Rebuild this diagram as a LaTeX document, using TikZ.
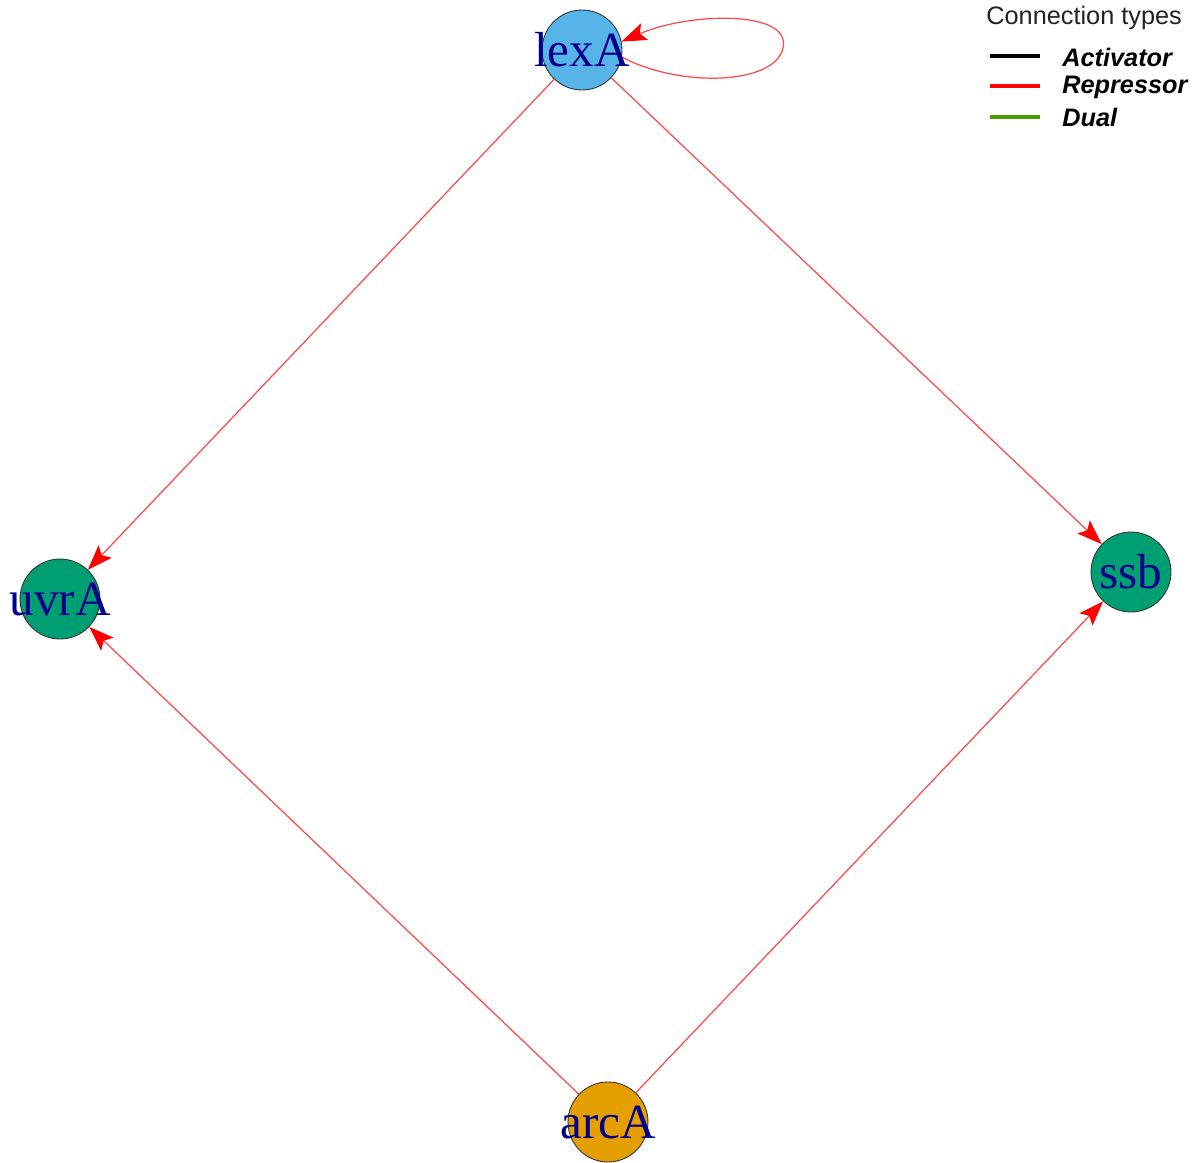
\documentclass[tikz,border=0pt]{standalone}
\usepackage{fontspec}
\setmainfont{Liberation Serif}
\newfontfamily\legfont{Liberation Sans}
\usetikzlibrary{arrows.meta}
\definecolor{nodeblue}{HTML}{56B4E9}
\definecolor{nodegreen}{HTML}{009E73}
\definecolor{nodeorange}{HTML}{E69F00}
\definecolor{labnavy}{HTML}{00008B}
\definecolor{edgered}{HTML}{FF4848}
\definecolor{duelgreen}{HTML}{4A9A00}
\definecolor{leggray}{HTML}{222222}
\tikzset{
  gene/.style={circle, draw=black!80, line width=0.5pt, minimum size=1.6cm, inner sep=0pt},
  genelab/.style={label={[text=labnavy, font=\fontsize{28}{30}\selectfont, inner sep=0pt]center:#1}},
  rep/.style={draw=edgered, line width=0.7pt,
    -{Stealth[length=0.5cm, width=0.36cm, inset=0.1cm, fill=red, color=red]}},
  legline/.style={line width=2.2pt},
  legtext/.style={anchor=west, font=\legfont\bfseries\itshape\fontsize{14.4}{16}\selectfont, inner sep=0pt}
}
\begin{document}
\begin{tikzpicture}[x=0.02cm, y=-0.02cm]
\useasboundingbox (0,0) rectangle (1201,1163);
% edges first (under nodes)
\coordinate (lexAc) at (582,50);
\coordinate (uvrAc) at (60,599);
\coordinate (ssbc) at (1131,572);
\coordinate (arcAc) at (608,1122);
\node[gene, fill=nodeblue] (lexA) at (lexAc) {};
\node[gene, fill=nodegreen] (uvrA) at (uvrAc) {};
\node[gene, fill=nodegreen] (ssb) at (ssbc) {};
\node[gene, fill=nodeorange] (arcA) at (arcAc) {};
\draw[rep] (lexA) -- (uvrA);
\draw[rep] (lexA) -- (ssb);
\draw[rep] (arcA) -- (uvrA);
\draw[rep] (arcA) -- (ssb);
\coordinate (loopR) at (783,48);
\draw[rep] (lexA.-10) .. controls (680,88) and (775,85) .. (loopR)
  .. controls (792,10) and (690,12) .. (lexA.12);
% node labels on top
\node[gene, draw=none, genelab=lexA] (lexAl) at (lexAc) {};
\node[gene, draw=none, genelab=uvrA] (uvrAl) at (uvrAc) {};
\node[gene, draw=none, genelab=ssb] (ssbl) at (ssbc) {};
\node[gene, draw=none, genelab=arcA] (arcAl) at (arcAc) {};
% legend
\node[anchor=west, inner sep=0pt, text=leggray, font=\legfont\fontsize{14.4}{16}\selectfont] (legtitle) at (986,18) {Connection types};
\coordinate (la1) at (990,56); \coordinate (lb1) at (1040,56);
\coordinate (la2) at (990,86); \coordinate (lb2) at (1040,86);
\coordinate (la3) at (990,117); \coordinate (lb3) at (1040,117);
\draw[legline, black] (la1) -- (lb1);
\draw[legline, red] (la2) -- (lb2);
\draw[legline, duelgreen] (la3) -- (lb3);
\node[legtext] (act) at (1062,57) {Activator};
\node[legtext] (repl) at (1062,87) {Repressor};
\node[legtext] (dual) at (1062,117) {Dual};
\end{tikzpicture}
\end{document}
